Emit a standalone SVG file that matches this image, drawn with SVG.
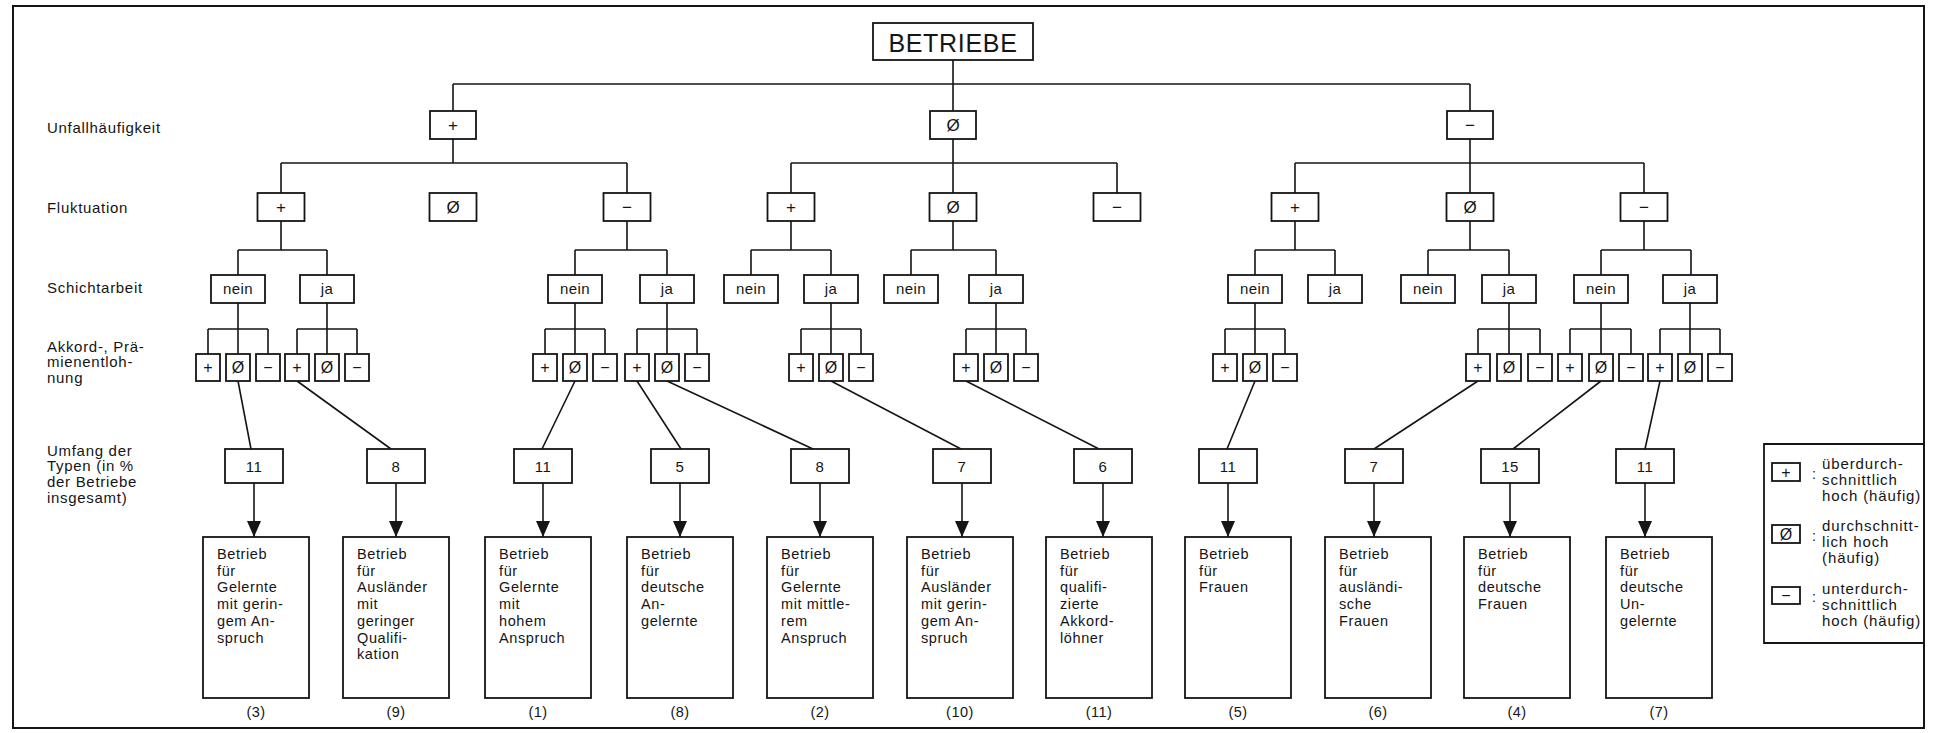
<svg xmlns="http://www.w3.org/2000/svg" width="1933" height="733" viewBox="0 0 1933 733">
<defs>
<style>
.b{fill:#fff;stroke:#151515;stroke-width:1.8}
.c{fill:none;stroke:#151515;stroke-width:1.6}
.t{font-family:"Liberation Sans",Arial,sans-serif;fill:#151515}
.lab{font-size:15px;letter-spacing:0.7px}
.sym{font-size:17px;text-anchor:middle}
.ss{font-size:16px;text-anchor:middle}
.yn{font-size:15px;text-anchor:middle;letter-spacing:0.4px}
.num{font-size:15px;text-anchor:middle;letter-spacing:0.5px}
.res{font-size:14.5px;letter-spacing:0.6px}
.rn{font-size:14.5px;text-anchor:middle;letter-spacing:0.5px}
.leg{font-size:15px;letter-spacing:0.9px}
</style>
<marker id="ah" viewBox="0 0 16 14" refX="16" refY="7" markerWidth="16" markerHeight="14" markerUnits="userSpaceOnUse" orient="auto">
<path d="M0,0 L16,7 L0,14 z" fill="#151515"/>
</marker>
</defs>
<rect x="0" y="0" width="1933" height="733" fill="#fff"/>
<rect x="13" y="6" width="1911" height="722" fill="none" stroke="#151515" stroke-width="2"/>

<g id="level-labels" class="t lab">
<text x="47" y="133">Unfallhäufigkeit</text>
<text x="47" y="213">Fluktuation</text>
<text x="47" y="293">Schichtarbeit</text>
<text x="47" y="352">Akkord-, Prä-</text>
<text x="47" y="367">mienentloh-</text>
<text x="47" y="383">nung</text>
<text x="47" y="456">Umfang der</text>
<text x="47" y="471">Typen (in %</text>
<text x="47" y="487">der Betriebe</text>
<text x="47" y="503">insgesamt)</text>
</g>

<g id="connectors" class="c">
<!-- root -->
<path d="M953,60 V84 M453,84 H1470 M453,84 V111 M953,84 V111 M1470,84 V111"/>
<!-- level1 to level2 -->
<path d="M453,139 V163 M281,163 H627 M281,163 V193 M627,163 V193"/>
<path d="M953,139 V193 M791,163 H1117 M791,163 V193 M1117,163 V193"/>
<path d="M1470,139 V193 M1295,163 H1644 M1295,163 V193 M1644,163 V193"/>
<!-- level2 to level3 -->
<path d="M281,221 V250 M238,250 H327 M238,250 V275 M327,250 V275"/>
<path d="M627,221 V250 M575,250 H667 M575,250 V275 M667,250 V275"/>
<path d="M791,221 V250 M751,250 H831 M751,250 V275 M831,250 V275"/>
<path d="M953,221 V250 M911,250 H996 M911,250 V275 M996,250 V275"/>
<path d="M1295,221 V250 M1255,250 H1335 M1255,250 V275 M1335,250 V275"/>
<path d="M1470,221 V250 M1428,250 H1509 M1428,250 V275 M1509,250 V275"/>
<path d="M1644,221 V250 M1601,250 H1691 M1601,250 V275 M1691,250 V275"/>
<!-- level3 to level4 -->
<path d="M238,303 V354 M208,329 H268 M208,329 V354 M268,329 V354"/>
<path d="M327,303 V354 M297,329 H357 M297,329 V354 M357,329 V354"/>
<path d="M575,303 V354 M545,329 H605 M545,329 V354 M605,329 V354"/>
<path d="M667,303 V354 M637,329 H697 M637,329 V354 M697,329 V354"/>
<path d="M831,303 V354 M801,329 H861 M801,329 V354 M861,329 V354"/>
<path d="M996,303 V354 M966,329 H1026 M966,329 V354 M1026,329 V354"/>
<path d="M1255,303 V354 M1225,329 H1285 M1225,329 V354 M1285,329 V354"/>
<path d="M1509,303 V354 M1478,329 H1540 M1478,329 V354 M1540,329 V354"/>
<path d="M1601,303 V354 M1570,329 H1631 M1570,329 V354 M1631,329 V354"/>
<path d="M1690,303 V354 M1660,329 H1720 M1660,329 V354 M1720,329 V354"/>
<!-- level4 to shares -->
<path d="M238,381 L251,449 M297,381 L391,449 M575,381 L542,449 M637,381 L681,449 M667,381 L813,449 M831,381 L961,449 M966,381 L1099,449 M1255,381 L1227,449 M1478,381 L1374,449 M1601,381 L1513,449 M1660,381 L1645,449"/>
<!-- arrows -->
<g marker-end="url(#ah)">
<line x1="254" y1="483" x2="254" y2="537"/>
<line x1="396" y1="483" x2="396" y2="537"/>
<line x1="543" y1="483" x2="543" y2="537"/>
<line x1="680" y1="483" x2="680" y2="537"/>
<line x1="820" y1="483" x2="820" y2="537"/>
<line x1="962" y1="483" x2="962" y2="537"/>
<line x1="1103" y1="483" x2="1103" y2="537"/>
<line x1="1228" y1="483" x2="1228" y2="537"/>
<line x1="1374" y1="483" x2="1374" y2="537"/>
<line x1="1510" y1="483" x2="1510" y2="537"/>
<line x1="1645" y1="483" x2="1645" y2="537"/>
</g>
</g>

<g id="root"><rect class="b" x="873" y="23" width="160" height="37"/><text class="t" x="953" y="52" font-size="25" text-anchor="middle" letter-spacing="0.7">BETRIEBE</text></g>

<!-- Level 1 -->
<g id="u-plus"><rect class="b" x="430" y="111" width="46" height="28"/><text class="t sym" x="453" y="131">+</text></g>
<g id="u-avg"><rect class="b" x="930" y="111" width="46" height="28"/><text class="t sym" x="953" y="131">Ø</text></g>
<g id="u-minus"><rect class="b" x="1447" y="111" width="46" height="28"/><text class="t sym" x="1470" y="131">−</text></g>

<!-- Level 2 -->
<g id="f1-plus"><rect class="b" x="257.5" y="193" width="47" height="28"/><text class="t sym" x="281" y="213">+</text></g>
<g id="f1-avg"><rect class="b" x="429.5" y="193" width="47" height="28"/><text class="t sym" x="453" y="213">Ø</text></g>
<g id="f1-minus"><rect class="b" x="603.5" y="193" width="47" height="28"/><text class="t sym" x="627" y="213">−</text></g>
<g id="f2-plus"><rect class="b" x="767.5" y="193" width="47" height="28"/><text class="t sym" x="791" y="213">+</text></g>
<g id="f2-avg"><rect class="b" x="929.5" y="193" width="47" height="28"/><text class="t sym" x="953" y="213">Ø</text></g>
<g id="f2-minus"><rect class="b" x="1093.5" y="193" width="47" height="28"/><text class="t sym" x="1117" y="213">−</text></g>
<g id="f3-plus"><rect class="b" x="1271.5" y="193" width="47" height="28"/><text class="t sym" x="1295" y="213">+</text></g>
<g id="f3-avg"><rect class="b" x="1446.5" y="193" width="47" height="28"/><text class="t sym" x="1470" y="213">Ø</text></g>
<g id="f3-minus"><rect class="b" x="1620.5" y="193" width="47" height="28"/><text class="t sym" x="1644" y="213">−</text></g>

<!-- Level 3 -->
<g id="s1-nein"><rect class="b" x="211" y="275" width="54" height="28"/><text class="t yn" x="238" y="294">nein</text></g>
<g id="s1-ja"><rect class="b" x="300" y="275" width="54" height="28"/><text class="t yn" x="327" y="294">ja</text></g>
<g id="s2-nein"><rect class="b" x="548" y="275" width="54" height="28"/><text class="t yn" x="575" y="294">nein</text></g>
<g id="s2-ja"><rect class="b" x="640" y="275" width="54" height="28"/><text class="t yn" x="667" y="294">ja</text></g>
<g id="s3-nein"><rect class="b" x="724" y="275" width="54" height="28"/><text class="t yn" x="751" y="294">nein</text></g>
<g id="s3-ja"><rect class="b" x="804" y="275" width="54" height="28"/><text class="t yn" x="831" y="294">ja</text></g>
<g id="s4-nein"><rect class="b" x="884" y="275" width="54" height="28"/><text class="t yn" x="911" y="294">nein</text></g>
<g id="s4-ja"><rect class="b" x="969" y="275" width="54" height="28"/><text class="t yn" x="996" y="294">ja</text></g>
<g id="s5-nein"><rect class="b" x="1228" y="275" width="54" height="28"/><text class="t yn" x="1255" y="294">nein</text></g>
<g id="s5-ja"><rect class="b" x="1308" y="275" width="54" height="28"/><text class="t yn" x="1335" y="294">ja</text></g>
<g id="s6-nein"><rect class="b" x="1401" y="275" width="54" height="28"/><text class="t yn" x="1428" y="294">nein</text></g>
<g id="s6-ja"><rect class="b" x="1482" y="275" width="54" height="28"/><text class="t yn" x="1509" y="294">ja</text></g>
<g id="s7-nein"><rect class="b" x="1574" y="275" width="54" height="28"/><text class="t yn" x="1601" y="294">nein</text></g>
<g id="s7-ja"><rect class="b" x="1663" y="275" width="54" height="28"/><text class="t yn" x="1690" y="294">ja</text></g>

<!-- Level 4 -->
<g id="a1"><rect class="b" x="196" y="354" width="24" height="27"/><text class="t ss" x="208" y="373">+</text><rect class="b" x="226" y="354" width="24" height="27"/><text class="t ss" x="238" y="373">Ø</text><rect class="b" x="256" y="354" width="24" height="27"/><text class="t ss" x="268" y="373">−</text></g>
<g id="a2"><rect class="b" x="285" y="354" width="24" height="27"/><text class="t ss" x="297" y="373">+</text><rect class="b" x="315" y="354" width="24" height="27"/><text class="t ss" x="327" y="373">Ø</text><rect class="b" x="345" y="354" width="24" height="27"/><text class="t ss" x="357" y="373">−</text></g>
<g id="a3"><rect class="b" x="533" y="354" width="24" height="27"/><text class="t ss" x="545" y="373">+</text><rect class="b" x="563" y="354" width="24" height="27"/><text class="t ss" x="575" y="373">Ø</text><rect class="b" x="593" y="354" width="24" height="27"/><text class="t ss" x="605" y="373">−</text></g>
<g id="a4"><rect class="b" x="625" y="354" width="24" height="27"/><text class="t ss" x="637" y="373">+</text><rect class="b" x="655" y="354" width="24" height="27"/><text class="t ss" x="667" y="373">Ø</text><rect class="b" x="685" y="354" width="24" height="27"/><text class="t ss" x="697" y="373">−</text></g>
<g id="a5"><rect class="b" x="789" y="354" width="24" height="27"/><text class="t ss" x="801" y="373">+</text><rect class="b" x="819" y="354" width="24" height="27"/><text class="t ss" x="831" y="373">Ø</text><rect class="b" x="849" y="354" width="24" height="27"/><text class="t ss" x="861" y="373">−</text></g>
<g id="a6"><rect class="b" x="954" y="354" width="24" height="27"/><text class="t ss" x="966" y="373">+</text><rect class="b" x="984" y="354" width="24" height="27"/><text class="t ss" x="996" y="373">Ø</text><rect class="b" x="1014" y="354" width="24" height="27"/><text class="t ss" x="1026" y="373">−</text></g>
<g id="a7"><rect class="b" x="1213" y="354" width="24" height="27"/><text class="t ss" x="1225" y="373">+</text><rect class="b" x="1243" y="354" width="24" height="27"/><text class="t ss" x="1255" y="373">Ø</text><rect class="b" x="1273" y="354" width="24" height="27"/><text class="t ss" x="1285" y="373">−</text></g>
<g id="a8"><rect class="b" x="1466" y="354" width="24" height="27"/><text class="t ss" x="1478" y="373">+</text><rect class="b" x="1497" y="354" width="24" height="27"/><text class="t ss" x="1509" y="373">Ø</text><rect class="b" x="1528" y="354" width="24" height="27"/><text class="t ss" x="1540" y="373">−</text></g>
<g id="a9"><rect class="b" x="1558" y="354" width="24" height="27"/><text class="t ss" x="1570" y="373">+</text><rect class="b" x="1589" y="354" width="24" height="27"/><text class="t ss" x="1601" y="373">Ø</text><rect class="b" x="1619" y="354" width="24" height="27"/><text class="t ss" x="1631" y="373">−</text></g>
<g id="a10"><rect class="b" x="1648" y="354" width="24" height="27"/><text class="t ss" x="1660" y="373">+</text><rect class="b" x="1678" y="354" width="24" height="27"/><text class="t ss" x="1690" y="373">Ø</text><rect class="b" x="1708" y="354" width="24" height="27"/><text class="t ss" x="1720" y="373">−</text></g>

<!-- Level 5 shares -->
<g id="n3"><rect class="b" x="225" y="449" width="58" height="34"/><text class="t num" x="254" y="472">11</text></g>
<g id="n9"><rect class="b" x="367" y="449" width="58" height="34"/><text class="t num" x="396" y="472">8</text></g>
<g id="n1"><rect class="b" x="514" y="449" width="58" height="34"/><text class="t num" x="543" y="472">11</text></g>
<g id="n8"><rect class="b" x="651" y="449" width="58" height="34"/><text class="t num" x="680" y="472">5</text></g>
<g id="n2"><rect class="b" x="791" y="449" width="58" height="34"/><text class="t num" x="820" y="472">8</text></g>
<g id="n10"><rect class="b" x="933" y="449" width="58" height="34"/><text class="t num" x="962" y="472">7</text></g>
<g id="n11"><rect class="b" x="1074" y="449" width="58" height="34"/><text class="t num" x="1103" y="472">6</text></g>
<g id="n5"><rect class="b" x="1199" y="449" width="58" height="34"/><text class="t num" x="1228" y="472">11</text></g>
<g id="n6"><rect class="b" x="1345" y="449" width="58" height="34"/><text class="t num" x="1374" y="472">7</text></g>
<g id="n4"><rect class="b" x="1481" y="449" width="58" height="34"/><text class="t num" x="1510" y="472">15</text></g>
<g id="n7"><rect class="b" x="1616" y="449" width="58" height="34"/><text class="t num" x="1645" y="472">11</text></g>

<!-- Results -->
<g id="r3"><rect class="b" x="203" y="537" width="106" height="161"/><text class="t res" x="217" y="559"><tspan x="217">Betrieb</tspan><tspan x="217" dy="16.7">für</tspan><tspan x="217" dy="16.7">Gelernte</tspan><tspan x="217" dy="16.7">mit gerin-</tspan><tspan x="217" dy="16.7">gem An-</tspan><tspan x="217" dy="16.7">spruch</tspan></text><text class="t rn" x="256" y="717">(3)</text></g>
<g id="r9"><rect class="b" x="343" y="537" width="106" height="161"/><text class="t res" x="357" y="559"><tspan x="357">Betrieb</tspan><tspan x="357" dy="16.7">für</tspan><tspan x="357" dy="16.7">Ausländer</tspan><tspan x="357" dy="16.7">mit</tspan><tspan x="357" dy="16.7">geringer</tspan><tspan x="357" dy="16.7">Qualifi-</tspan><tspan x="357" dy="16.7">kation</tspan></text><text class="t rn" x="396" y="717">(9)</text></g>
<g id="r1"><rect class="b" x="485" y="537" width="106" height="161"/><text class="t res" x="499" y="559"><tspan x="499">Betrieb</tspan><tspan x="499" dy="16.7">für</tspan><tspan x="499" dy="16.7">Gelernte</tspan><tspan x="499" dy="16.7">mit</tspan><tspan x="499" dy="16.7">hohem</tspan><tspan x="499" dy="16.7">Anspruch</tspan></text><text class="t rn" x="538" y="717">(1)</text></g>
<g id="r8"><rect class="b" x="627" y="537" width="106" height="161"/><text class="t res" x="641" y="559"><tspan x="641">Betrieb</tspan><tspan x="641" dy="16.7">für</tspan><tspan x="641" dy="16.7">deutsche</tspan><tspan x="641" dy="16.7">An-</tspan><tspan x="641" dy="16.7">gelernte</tspan></text><text class="t rn" x="680" y="717">(8)</text></g>
<g id="r2"><rect class="b" x="767" y="537" width="106" height="161"/><text class="t res" x="781" y="559"><tspan x="781">Betrieb</tspan><tspan x="781" dy="16.7">für</tspan><tspan x="781" dy="16.7">Gelernte</tspan><tspan x="781" dy="16.7">mit mittle-</tspan><tspan x="781" dy="16.7">rem</tspan><tspan x="781" dy="16.7">Anspruch</tspan></text><text class="t rn" x="820" y="717">(2)</text></g>
<g id="r10"><rect class="b" x="907" y="537" width="106" height="161"/><text class="t res" x="921" y="559"><tspan x="921">Betrieb</tspan><tspan x="921" dy="16.7">für</tspan><tspan x="921" dy="16.7">Ausländer</tspan><tspan x="921" dy="16.7">mit gerin-</tspan><tspan x="921" dy="16.7">gem An-</tspan><tspan x="921" dy="16.7">spruch</tspan></text><text class="t rn" x="960" y="717">(10)</text></g>
<g id="r11"><rect class="b" x="1046" y="537" width="106" height="161"/><text class="t res" x="1060" y="559"><tspan x="1060">Betrieb</tspan><tspan x="1060" dy="16.7">für</tspan><tspan x="1060" dy="16.7">qualifi-</tspan><tspan x="1060" dy="16.7">zierte</tspan><tspan x="1060" dy="16.7">Akkord-</tspan><tspan x="1060" dy="16.7">löhner</tspan></text><text class="t rn" x="1099" y="717">(11)</text></g>
<g id="r5"><rect class="b" x="1185" y="537" width="106" height="161"/><text class="t res" x="1199" y="559"><tspan x="1199">Betrieb</tspan><tspan x="1199" dy="16.7">für</tspan><tspan x="1199" dy="16.7">Frauen</tspan></text><text class="t rn" x="1238" y="717">(5)</text></g>
<g id="r6"><rect class="b" x="1325" y="537" width="106" height="161"/><text class="t res" x="1339" y="559"><tspan x="1339">Betrieb</tspan><tspan x="1339" dy="16.7">für</tspan><tspan x="1339" dy="16.7">ausländi-</tspan><tspan x="1339" dy="16.7">sche</tspan><tspan x="1339" dy="16.7">Frauen</tspan></text><text class="t rn" x="1378" y="717">(6)</text></g>
<g id="r4"><rect class="b" x="1464" y="537" width="106" height="161"/><text class="t res" x="1478" y="559"><tspan x="1478">Betrieb</tspan><tspan x="1478" dy="16.7">für</tspan><tspan x="1478" dy="16.7">deutsche</tspan><tspan x="1478" dy="16.7">Frauen</tspan></text><text class="t rn" x="1517" y="717">(4)</text></g>
<g id="r7"><rect class="b" x="1606" y="537" width="106" height="161"/><text class="t res" x="1620" y="559"><tspan x="1620">Betrieb</tspan><tspan x="1620" dy="16.7">für</tspan><tspan x="1620" dy="16.7">deutsche</tspan><tspan x="1620" dy="16.7">Un-</tspan><tspan x="1620" dy="16.7">gelernte</tspan></text><text class="t rn" x="1659" y="717">(7)</text></g>

<!-- Legend -->
<g id="legend">
<path d="M1924,444 H1764 V643 H1924" fill="none" stroke="#151515" stroke-width="1.8"/>
<rect class="b" x="1772" y="463" width="28" height="18"/>
<text class="t" x="1786" y="478" font-size="16" text-anchor="middle">+</text>
<text class="t" x="1812" y="479" font-size="14">:</text>
<text class="t leg" x="1822" y="469"><tspan x="1822">überdurch-</tspan><tspan x="1822" dy="15.8">schnittlich</tspan><tspan x="1822" dy="15.8">hoch (häufig)</tspan></text>
<rect class="b" x="1772" y="525" width="28" height="18"/>
<text class="t" x="1786" y="540" font-size="16" text-anchor="middle">Ø</text>
<text class="t" x="1812" y="541" font-size="14">:</text>
<text class="t leg" x="1822" y="531"><tspan x="1822">durchschnitt-</tspan><tspan x="1822" dy="16">lich hoch</tspan><tspan x="1822" dy="16">(häufig)</tspan></text>
<rect class="b" x="1772" y="587" width="28" height="17"/>
<text class="t" x="1786" y="601" font-size="16" text-anchor="middle">−</text>
<text class="t" x="1812" y="602" font-size="14">:</text>
<text class="t leg" x="1822" y="594"><tspan x="1822">unterdurch-</tspan><tspan x="1822" dy="15.8">schnittlich</tspan><tspan x="1822" dy="15.8">hoch (häufig)</tspan></text>
</g>
</svg>
